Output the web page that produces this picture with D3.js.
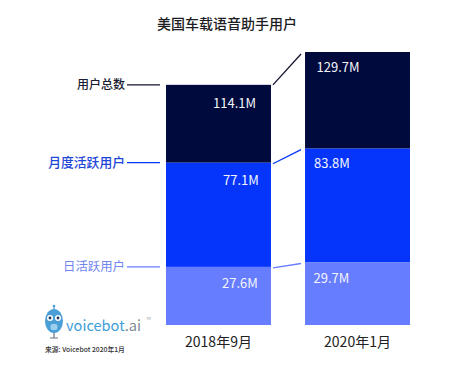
<!DOCTYPE html>
<html><head><meta charset="utf-8">
<script src="https://cdnjs.cloudflare.com/ajax/libs/d3/7.8.5/d3.min.js"></script>
<style>html,body{margin:0;padding:0;background:#fff}svg{display:block}text{font-family:"Noto Sans CJK SC","Noto Sans",sans-serif}</style>
</head><body><svg id="c" width="454" height="370"></svg>
<script>
const periods = ["2018年9月","2020年1月"];
const seriesNames = ["用户总数","月度活跃用户","日活跃用户"];
const seriesColors = ["#000a3c","#0535fb","#667dff"];
const labelColors = ["#1a1d33","#1f47d8","#7187ef"];
const totalUsers = [114.1,129.7];
const monthlyUsers = [77.1,83.8];
const dailyUsers = [27.6,29.7];
const values = [totalUsers,monthlyUsers,dailyUsers];

const svg = d3.select("#c");
const x = d3.scaleBand().domain(periods).range([166,410]).paddingInner(0.245).paddingOuter(0);
const y = d3.scaleLinear().domain([0,129.7]).range([325,52]);

svg.append("text").attr("x",227).attr("y",29).attr("text-anchor","middle")
  .attr("font-size",14).attr("font-weight",500).attr("fill","#1c1c24").text("美国车载语音助手用户");

values.forEach((vals,s)=>{
  svg.append("g").selectAll("rect").data(periods).join("rect")
    .attr("x",d=>x(d)).attr("width",x.bandwidth())
    .attr("y",(d,i)=>y(vals[i]))
    .attr("height",(d,i)=>y(s<2?values[s+1][i]:0)-y(vals[i]))
    .attr("fill",seriesColors[s]);
});

const labelX = [[234.5,241,240],[338,332,331.5]];
const labelY = [[108,185,288],[72,168,283]];
values.forEach((vals,s)=>{
  svg.append("g").selectAll("text").data(vals).join("text")
    .attr("x",(d,i)=>labelX[i][s]).attr("y",(d,i)=>labelY[i][s])
    .attr("text-anchor","middle").attr("font-size",13).attr("fill","#f4f5fb")
    .attr("font-family","'Noto Sans',sans-serif")
    .text(d=>d3.format(".1f")(d)+"M");
});

const labelSizes = [12,12.8,12.4];
values.forEach((vals,s)=>{
  const yy=y(vals[0]);
  svg.append("text").attr("x",125).attr("y",yy+4).attr("text-anchor","end")
    .attr("font-size",labelSizes[s]).attr("font-weight",s<2?500:400).attr("fill",labelColors[s]).text(seriesNames[s]);
  svg.append("line").attr("x1",127).attr("x2",160).attr("y1",yy).attr("y2",yy)
    .attr("stroke",s==0?"#10142e":seriesColors[s]).attr("stroke-width",1.3);
  svg.append("line")
    .attr("x1",x(periods[0])+x.bandwidth()+2).attr("y1",yy+(s==0?0:1))
    .attr("x2",x(periods[1])-4).attr("y2",y(vals[1])+(s==0?2:1))
    .attr("stroke",s==0?"#10142e":seriesColors[s]).attr("stroke-width",1.3);
});

svg.append("g").selectAll("text").data(periods).join("text")
  .attr("x",d=>x(d)+x.bandwidth()/2).attr("y",347).attr("text-anchor","middle")
  .attr("font-size",14).attr("fill","#222").text(d=>d);

const logo = svg.append("g");
logo.append("line").attr("x1",54).attr("x2",54).attr("y1",306).attr("y2",311).attr("stroke","#4a9fd6").attr("stroke-width",1.2);
logo.append("circle").attr("cx",54).attr("cy",306).attr("r",1.3).attr("fill","#4a9fd6");
logo.append("ellipse").attr("cx",54).attr("cy",321).attr("rx",9).attr("ry",12).attr("fill","#4a9fd6");
[50,58].forEach(c=>{
  logo.append("circle").attr("cx",c).attr("cy",318).attr("r",3).attr("fill","#fff");
  logo.append("circle").attr("cx",c).attr("cy",318).attr("r",1.4).attr("fill","#1d3557");
});
logo.append("rect").attr("x",50.5).attr("y",324).attr("width",7).attr("height",6).attr("rx",2).attr("fill","#9ed0ee");
logo.append("line").attr("x1",54).attr("x2",54).attr("y1",333).attr("y2",338).attr("stroke","#7f8a96").attr("stroke-width",1.5);
logo.append("line").attr("x1",50).attr("x2",58).attr("y1",338).attr("y2",338).attr("stroke","#7f8a96").attr("stroke-width",1.2);
const brand = svg.append("text").attr("x",66).attr("y",331).attr("font-size",14.6)
  .attr("font-family","'Open Sans',sans-serif").attr("fill","#3f9ed8");
brand.append("tspan").text("voicebot");
brand.append("tspan").attr("fill","#7f8a96").text(".ai");
svg.append("text").attr("x",146.5).attr("y",320).attr("font-size",3).attr("fill","#7f8a96").attr("font-family","'Open Sans',sans-serif").text("TM");

svg.append("text").attr("x",45).attr("y",352).attr("font-size",6.8).attr("font-weight",500).attr("fill","#333").text("来源:  Voicebot 2020年1月");
</script></body></html>
